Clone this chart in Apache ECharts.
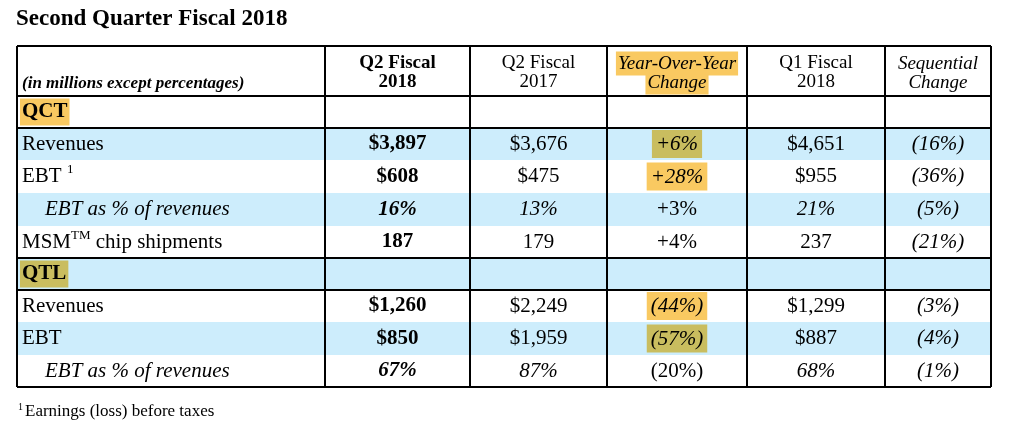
<!DOCTYPE html>
<html>
<head>
<meta charset="UTF-8">
<title>Second Quarter Fiscal 2018</title>
<script src="https://cdn.jsdelivr.net/npm/echarts@6/dist/echarts.min.js"></script>
<style>
body { margin: 0; padding: 0; background: #fff; }
#main { width: 1024px; height: 432px; }
</style>
</head>
<body>
<div id="main"></div>
<script>
// table contents
var title = 'Second Quarter Fiscal 2018';
var headers = ['(in millions except percentages)', 'Q2 Fiscal\n2018', 'Q2 Fiscal\n2017', 'Year-Over-Year\nChange', 'Q1 Fiscal\n2018', 'Sequential\nChange'];
var rowLabels = ['QCT', 'Revenues', 'EBT ^1', 'EBT as % of revenues', 'MSM^TM chip shipments', 'QTL', 'Revenues', 'EBT', 'EBT as % of revenues'];
var q2fy18 = ['', '$3,897', '$608', '16%', '187', '', '$1,260', '$850', '67%'];
var q2fy17 = ['', '$3,676', '$475', '13%', '179', '', '$2,249', '$1,959', '87%'];
var yoyChange = ['', '+6%', '+28%', '+3%', '+4%', '', '(44%)', '(57%)', '(20%)'];
var q1fy18 = ['', '$4,651', '$955', '21%', '237', '', '$1,299', '$887', '68%'];
var seqChange = ['', '(16%)', '(36%)', '(5%)', '(21%)', '', '(3%)', '(4%)', '(1%)'];
var footnote = 'Earnings (loss) before taxes';

// layout / styling
var colWidths = [308, 145, 137, 140, 138, 106];
var rowHeights = [50, 32, 32, 33, 33, 32, 32, 32, 33, 32];
var blueRows = [1, 3, 5, 7];
var sectionMarks = {0: 'O', 5: 'G'};
var indentRows = [3, 8];
var yoyMarks = {1: 'G', 2: 'O', 6: 'O', 7: 'G'};
var rulesBelow = [0, 1, 5, 6];

var FONT = '"Liberation Serif", "Times New Roman", serif';
var INK = '#111';
var BLUE = '#cdedfc';
var ORANGE = '#f9c961';
var OLIVE = '#c9bd5f';

var columns = [rowLabels, q2fy18, q2fy17, yoyChange, q1fy18, seqChange];
var colEdges = [0], rowEdges = [0];
colWidths.forEach(function (w, i) { colEdges.push(colEdges[i] + w); });
rowHeights.forEach(function (h, i) { rowEdges.push(rowEdges[i] + h); });
var totalW = colEdges[colEdges.length - 1];
var totalH = rowEdges[rowEdges.length - 1];

function st(o) {
    return Object.assign({fontFamily: FONT, color: INK, fontSize: 21, lineHeight: 26}, o);
}
var rich = {
    n: st({}),
    b: st({fontWeight: 'bold'}),
    i: st({fontStyle: 'italic'}),
    bi: st({fontWeight: 'bold', fontStyle: 'italic'}),
    sup: st({fontSize: 13, lineHeight: 13, verticalAlign: 'top'}),
    hO: st({fontStyle: 'italic', lineHeight: 21, backgroundColor: ORANGE, padding: [4, 4, 3, 4]}),
    hG: st({fontStyle: 'italic', lineHeight: 21, backgroundColor: OLIVE, padding: [4, 4, 3, 4]}),
    secO: st({fontWeight: 'bold', lineHeight: 21, backgroundColor: ORANGE, padding: [3, 2, 3, 2]}),
    secG: st({fontWeight: 'bold', lineHeight: 21, backgroundColor: OLIVE, padding: [3, 2, 3, 2]}),
    hd: st({fontSize: 19, lineHeight: 19}),
    hdB: st({fontSize: 19, lineHeight: 19, fontWeight: 'bold'}),
    hdI: st({fontSize: 19, lineHeight: 19, fontStyle: 'italic'}),
    hdHl: st({fontSize: 19, lineHeight: 19, fontStyle: 'italic', backgroundColor: ORANGE, padding: [3, 2, 2, 2]}),
    note: st({fontSize: 17, lineHeight: 17, fontWeight: 'bold', fontStyle: 'italic'}),
    fnSup: st({fontSize: 10, lineHeight: 10, verticalAlign: 'top', padding: [0, 2, 0, 1]}),
    fn: st({fontSize: 17, lineHeight: 19})
};

function wrap(text, style) {
    return text.split('\n').map(function (l) { return '{' + style + '|' + l + '}'; }).join('\n');
}
function withSup(label, style) {
    return label.split(/\^(\S+)/).map(function (part, k) {
        return part ? '{' + (k % 2 ? 'sup' : style) + '|' + part + '}' : '';
    }).join('');
}

// returns text, alignment and offsets for one cell
function cellText(c, r) {
    if (r === 0) {
        if (c === 0) return {text: wrap(headers[0], 'note'), align: 'left', dx: 5, dy: 13};
        var hs = c === 1 ? 'hdB' : c === 3 ? 'hdHl' : c === 5 ? 'hdI' : 'hd';
        return {text: wrap(headers[c], hs), align: 'center', dx: 0, dy: 2};
    }
    var i = r - 1;
    var v = columns[c][i];
    if (!v) return null;
    var it = indentRows.indexOf(i) >= 0;
    if (c === 0) {
        if (sectionMarks[i]) return {text: wrap(v, 'sec' + sectionMarks[i]), align: 'left', dx: 3, dy: 0};
        return {text: withSup(v, it ? 'i' : 'n'), align: 'left', dx: it ? 28 : 5, dy: 0};
    }
    var s;
    if (c === 1) s = it ? 'bi' : 'b';
    else if (c === 3) s = yoyMarks[i] ? 'h' + yoyMarks[i] : 'n';
    else if (c === 5) s = 'i';
    else s = it ? 'i' : 'n';
    return {text: wrap(v, s), align: 'center', dx: 0, dy: 0};
}

function renderCell(params, api) {
    var c = api.value(0), r = api.value(1);
    var p0 = api.coord([colEdges[c], rowEdges[r]]);
    var p1 = api.coord([colEdges[c + 1], rowEdges[r + 1]]);
    var children = [];
    if (r > 0 && blueRows.indexOf(r - 1) >= 0) {
        children.push({
            type: 'rect',
            shape: {x: p0[0], y: p0[1], width: p1[0] - p0[0], height: p1[1] - p0[1]},
            style: {fill: BLUE}
        });
    }
    var t = cellText(c, r);
    if (t) {
        children.push({
            type: 'text',
            style: {
                x: t.align === 'left' ? p0[0] + t.dx : (p0[0] + p1[0]) / 2,
                y: (p0[1] + p1[1]) / 2 + t.dy,
                text: t.text,
                rich: rich,
                align: t.align,
                verticalAlign: 'middle'
            }
        });
    }
    return {type: 'group', children: children};
}

function renderRules(params, api) {
    var lines = [];
    function seg(a, b) {
        lines.push({
            type: 'line',
            shape: {x1: a[0], y1: a[1], x2: b[0], y2: b[1]},
            style: {stroke: '#000', lineWidth: 2}
        });
    }
    colEdges.forEach(function (x) {
        seg(api.coord([x, 0]), api.coord([x, totalH]));
    });
    [0].concat(rulesBelow.map(function (r) { return r + 1; }), [rowHeights.length]).forEach(function (r) {
        seg(api.coord([0, rowEdges[r]]), api.coord([totalW, rowEdges[r]]));
    });
    return {type: 'group', children: lines};
}

var cells = [];
for (var r = 0; r < rowHeights.length; r++) {
    for (var c = 0; c < colWidths.length; c++) cells.push([c, r]);
}

var chart = echarts.init(document.getElementById('main'));
var option = {
    animation: false,
    title: {
        text: title,
        left: 16,
        top: 8,
        padding: 0,
        textStyle: {fontFamily: FONT, fontWeight: 'bold', fontSize: 23, color: '#000'}
    },
    grid: {left: 17, top: 46, width: totalW, height: totalH},
    xAxis: {type: 'value', min: 0, max: totalW, show: false},
    yAxis: {type: 'value', min: 0, max: totalH, inverse: true, show: false},
    graphic: [{
        type: 'text',
        left: 17,
        top: 402,
        style: {text: '{fnSup|1}{fn|' + footnote + '}', rich: rich}
    }],
    series: [
        {type: 'custom', renderItem: renderCell, data: cells, z: 2},
        {type: 'custom', renderItem: renderRules, data: [[0, 0]], z: 3}
    ]
};
chart.setOption(option);
</script>
</body>
</html>
